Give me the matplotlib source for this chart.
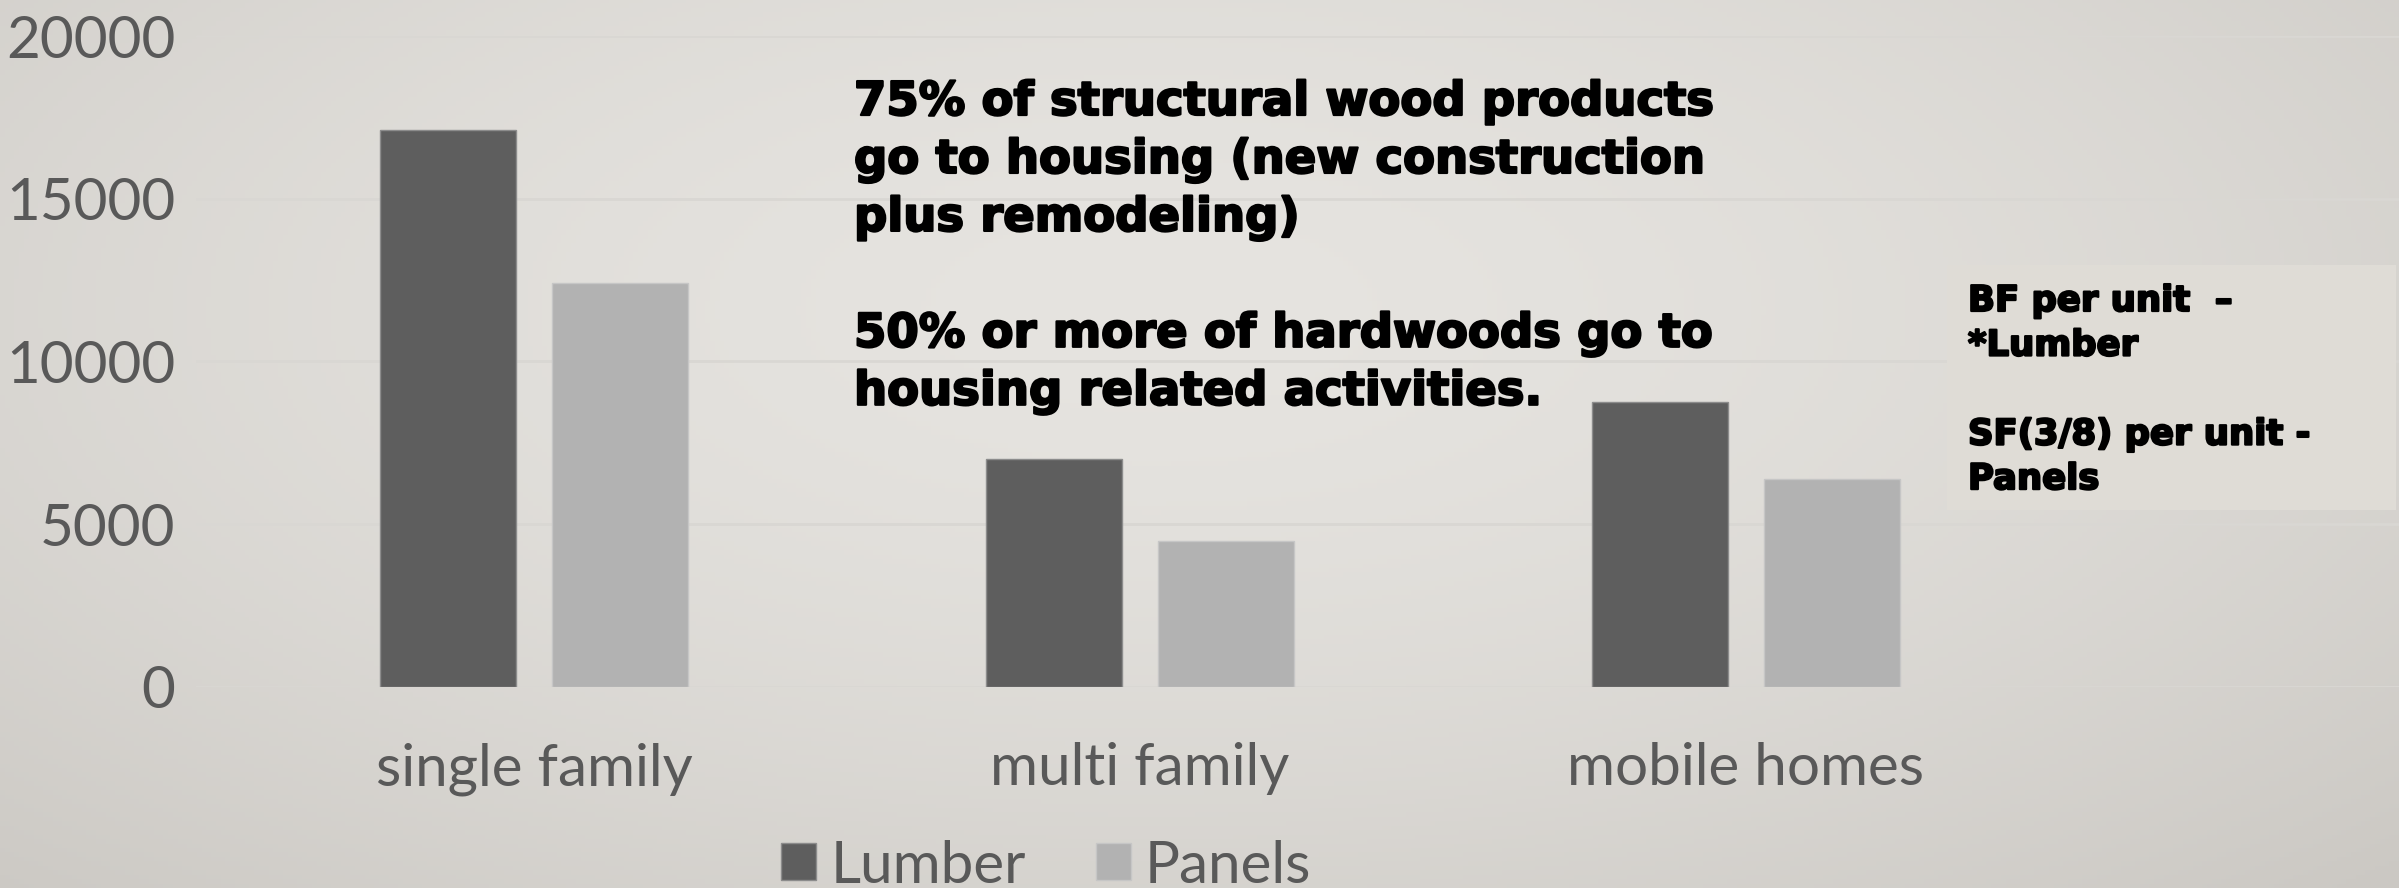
import numpy as np
import matplotlib
matplotlib.use("Agg")
import matplotlib.pyplot as plt
import matplotlib.patheffects as pe

# Data
categories = ["single family", "multi family", "mobile homes"]
series_names = ["Lumber", "Panels"]
lumber = [17100, 7000, 8750]
panels = [12400, 4480, 6380]
y_ticks = [0, 5000, 10000, 15000, 20000]

note_main = ("75% of structural wood products\n"
             "go to housing (new construction\n"
             "plus remodeling)\n"
             "\n"
             "50% or more of hardwoods go to\n"
             "housing related activities.")
note_units = ("BF per unit  \u2013\n"
              "*Lumber\n"
              "\n"
              "SF(3/8) per unit -\n"
              "Panels")

W, H, DPI = 2399, 888, 100
fig = plt.figure(figsize=(W / DPI, H / DPI), dpi=DPI)

# Soft stone-coloured backdrop: lighter in the middle, darker toward the edges
bg = fig.add_axes([0, 0, 1, 1], zorder=-10)
bg.set_axis_off()
yy, xx = np.mgrid[0:1:200j, 0:1:500j]
d = np.sqrt(((xx - 0.48) / 0.75) ** 2 + ((yy - 0.35) / 0.9) ** 2)
light = np.array([230, 228, 224]) / 255
dark = np.array([203, 200, 195]) / 255
t = np.clip(d, 0, 1)[..., None] ** 1.6
img = light * (1 - t) + dark * t
bg.imshow(img, extent=[0, 1, 0, 1], aspect="auto", origin="upper")
bg.set_xlim(0, 1)
bg.set_ylim(0, 1)

# Plot area geometry (pixels)
px_per_cat = 606.0
first_center = 533.9
ax_left_px, ax_right_px = 196.0, 2399.0
y0_px, y20k_px = 686.7, 36.0  # from top
ax = fig.add_axes([ax_left_px / W, 1 - y0_px / H,
                   (ax_right_px - ax_left_px) / W, (y0_px - y20k_px) / H])
ax.set_facecolor("none")
x_lo = -(first_center - ax_left_px) / px_per_cat
x_hi = (ax_right_px - first_center) / px_per_cat
ax.set_xlim(x_lo, x_hi)
ax.set_ylim(0, 20000)

x = np.arange(len(categories))
bw = 136 / px_per_cat
off = 0.1423
ax.bar(x - off, lumber, width=bw, color="#5E5E5E", edgecolor="#8C8C8C",
       linewidth=1.0, label=series_names[0], zorder=3)
ax.bar(x + off, panels, width=bw, color="#B2B2B2", edgecolor="#C6C6C6",
       linewidth=1.0, label=series_names[1], zorder=3)

ax.set_yticks(y_ticks)
ax.set_yticklabels([str(v) for v in y_ticks])
ax.yaxis.grid(True, color="#D9D7D3", linewidth=2.0, zorder=0)
ax.set_axisbelow(True)
for s in ax.spines.values():
    s.set_visible(False)
ax.tick_params(axis="both", length=0, colors="#595959")
ax.tick_params(axis="y", pad=15)
ax.tick_params(axis="x", pad=40)
ax.set_xticks(x)
ax.set_xticklabels(categories)
for lab in ax.get_yticklabels() + ax.get_xticklabels():
    lab.set_fontfamily("Lato")
    lab.set_fontsize(42)
    lab.set_color("#595959")

# Legend along the bottom
leg = fig.legend(loc="center", bbox_to_anchor=(1046 / W, 1 - 866 / H),
                 ncol=2, frameon=False, handlelength=0.6, handleheight=0.6,
                 handletextpad=0.25, columnspacing=1.2,
                 prop={"family": "Lato", "size": 42})
for txt in leg.get_texts():
    txt.set_color("#595959")

heavy = [pe.Stroke(linewidth=1.6, foreground="black"), pe.Normal()]

# Callout text
fig.text(854 / W, 1 - 80 / H, note_main, ha="left", va="top",
         fontfamily="DejaVu Sans", fontweight="bold", fontsize=33.5,
         color="black", linespacing=1.37, path_effects=heavy)

# Units box on the right
box_x0, box_y0, box_x1, box_y1 = 1947, 265, 2396, 510
fig.patches.append(plt.Rectangle((box_x0 / W, 1 - box_y1 / H),
                                 (box_x1 - box_x0) / W, (box_y1 - box_y0) / H,
                                 transform=fig.transFigure, facecolor="#DFDCD6",
                                 edgecolor="none", zorder=1))
fig.text(1968 / W, 1 - 284 / H, note_units, ha="left", va="top",
         fontfamily="DejaVu Sans", fontweight="bold", fontsize=25.5,
         color="black", linespacing=1.39, zorder=2, path_effects=heavy)

fig.savefig("out.png", dpi=DPI)
